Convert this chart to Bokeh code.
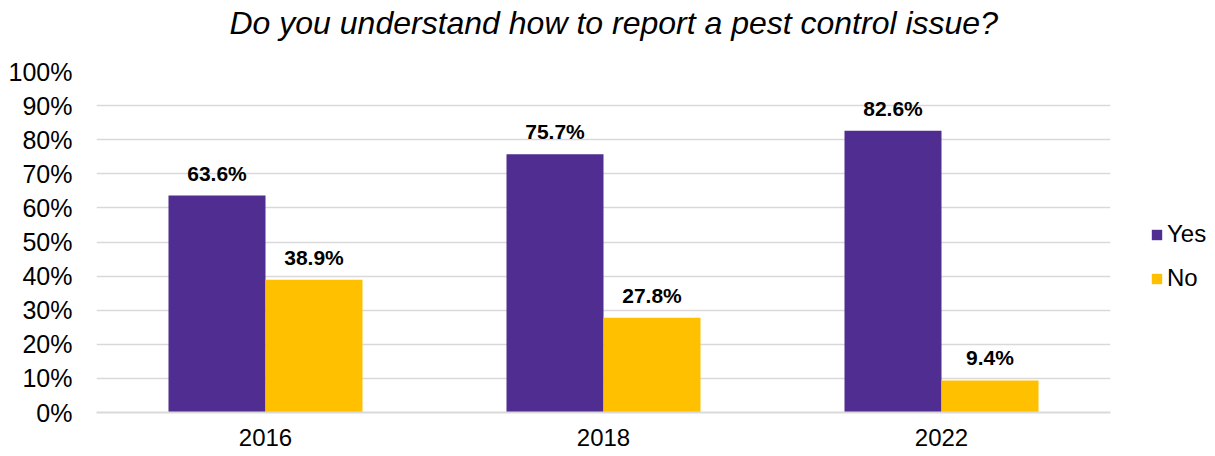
from bokeh.plotting import figure
from bokeh.models import (ColumnDataSource, FactorRange, Range1d, FixedTicker, LabelSet,
                          Legend, LegendItem, Title)
from bokeh.core.properties import value
from bokeh.transform import dodge
from bokeh.embed import file_html
from bokeh.resources import INLINE

years = ["2016", "2018", "2022"]
yes = [63.6, 75.7, 82.6]
no = [38.9, 27.8, 9.4]
y_ticks = [0, 10, 20, 30, 40, 50, 60, 70, 80, 90, 100]
title_text = "Do you understand how to report a pest control issue?"

PURPLE = "#4F2D91"
YELLOW = "#FFC000"
FONT = "Liberation Sans"

src = ColumnDataSource(dict(
    year=years, yes=yes, no=no,
    yes_lbl=[f"{v:.1f}%" for v in yes],
    no_lbl=[f"{v:.1f}%" for v in no],
))

p = figure(x_range=FactorRange(*years), y_range=Range1d(0, 100),
           frame_width=1014, frame_height=341,
           min_border_left=96, min_border_right=105, min_border_top=71, min_border_bottom=40,
           output_backend="svg", toolbar_location=None)
p.title = None
# spacer between frame and title
p.add_layout(Title(text=" ", text_font=FONT, text_font_size="1px", standoff=28), "above")
p.add_layout(Title(text=title_text, align="left", offset=133, text_font=FONT,
                   text_font_size="32px", text_font_style="italic", text_color="#000000",
                   standoff=0), "above")

r_yes = p.vbar(x=dodge("year", -0.1435, range=p.x_range), top="yes", width=0.287,
               source=src, color=PURPLE, line_color=None)
r_no = p.vbar(x=dodge("year", 0.1435, range=p.x_range), top="no", width=0.287,
              source=src, color=YELLOW, line_color=None)

for col, off in (("yes", -0.1435), ("no", 0.1435)):
    p.add_layout(LabelSet(x=dodge("year", off, range=p.x_range), y=col, text=col + "_lbl",
                          source=src, y_offset=15, text_align="center",
                          text_baseline="alphabetic", text_font=value(FONT),
                          text_font_size=value("21px"),
                          text_font_style=value("bold"), text_color=value("#000000")))

p.yaxis.ticker = FixedTicker(ticks=y_ticks)
p.yaxis.major_label_overrides = {t: f"{t}%" for t in y_ticks}
p.yaxis.axis_line_color = None
p.yaxis.major_tick_line_color = None
p.yaxis.minor_tick_line_color = None
p.yaxis.major_tick_out = 0
p.yaxis.major_tick_in = 0
p.yaxis.minor_tick_out = 0
p.yaxis.major_label_standoff = 24
p.yaxis.major_label_text_font = FONT
p.yaxis.major_label_text_font_size = "25px"
p.yaxis.major_label_text_color = "#000000"

p.xaxis.axis_line_color = "#D9D9D9"
p.xaxis.axis_line_width = 2
p.xaxis.major_tick_line_color = None
p.xaxis.minor_tick_line_color = None
p.xaxis.major_tick_out = 0
p.xaxis.major_tick_in = 0
p.xaxis.minor_tick_out = 0
p.xaxis.major_label_standoff = 16
p.xaxis.major_label_text_font = FONT
p.xaxis.major_label_text_font_size = "24px"
p.xaxis.major_label_text_color = "#000000"

p.xgrid.grid_line_color = None
p.ygrid.grid_line_color = "#D9D9D9"
p.ygrid.grid_line_width = 1.5
p.outline_line_color = None

legend = Legend(items=[LegendItem(label="Yes", renderers=[r_yes]),
                       LegendItem(label="No", renderers=[r_no])],
                location=(40, 120), orientation="vertical",
                glyph_width=13, glyph_height=13, label_standoff=4, label_height=24,
                spacing=16, padding=0, margin=0, border_line_color=None,
                background_fill_alpha=0,
                label_text_font=FONT, label_text_font_size="24px", label_text_color="#000000")
p.add_layout(legend, "right")

open("out.html", "w").write(file_html(p, INLINE))
